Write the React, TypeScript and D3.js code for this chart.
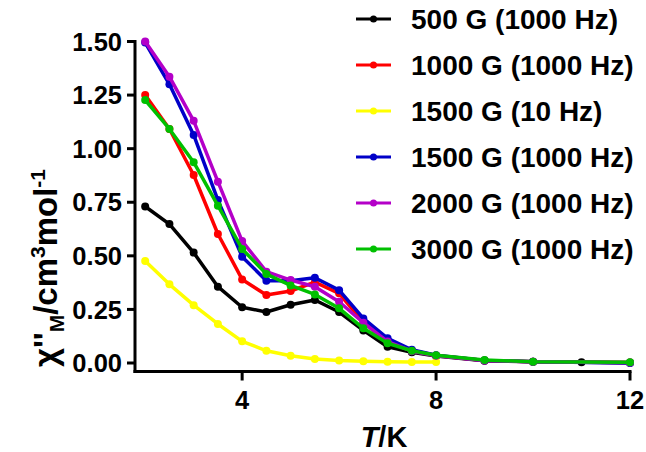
import React from "react";
import * as d3 from "d3";

const tempsMain = [2, 2.5, 3, 3.5, 4, 4.5, 5, 5.5, 6, 6.5, 7, 7.5, 8, 9, 10, 12];
const tempsBlack = [2, 2.5, 3, 3.5, 4, 4.5, 5, 5.5, 6, 6.5, 7, 7.5, 8, 9, 10, 11, 12];
const tempsYellow = [2, 2.5, 3, 3.5, 4, 4.5, 5, 5.5, 6, 6.5, 7, 7.5, 8];

const black500 = [0.73, 0.648, 0.515, 0.356, 0.26, 0.238, 0.272, 0.294, 0.238, 0.152, 0.076, 0.05, 0.033, 0.011, 0.006, 0.003, 0.001];
const red1000 = [1.25, 1.092, 0.877, 0.602, 0.39, 0.317, 0.336, 0.377, 0.325, 0.19, 0.1, 0.058, 0.035, 0.012, 0.006, 0.002];
const yellow1500 = [0.476, 0.367, 0.27, 0.182, 0.101, 0.057, 0.034, 0.019, 0.012, 0.008, 0.006, 0.005, 0.005];
const blue1500 = [1.495, 1.3, 1.064, 0.76, 0.496, 0.384, 0.384, 0.398, 0.34, 0.208, 0.115, 0.062, 0.036, 0.012, 0.006, 0.0];
const purple2000 = [1.5, 1.336, 1.13, 0.846, 0.569, 0.426, 0.387, 0.356, 0.286, 0.188, 0.1, 0.055, 0.034, 0.012, 0.006, 0.002];
const green3000 = [1.227, 1.092, 0.937, 0.734, 0.532, 0.415, 0.362, 0.32, 0.255, 0.162, 0.092, 0.057, 0.036, 0.014, 0.006, 0.003];

const seriesLabels = [
  "500 G (1000 Hz)",
  "1000 G (1000 Hz)",
  "1500 G (10 Hz)",
  "1500 G (1000 Hz)",
  "2000 G (1000 Hz)",
  "3000 G (1000 Hz)",
];
const seriesColors = ["#000000", "#ff0000", "#ffff00", "#0000c8", "#b400c8", "#00c000"];

const xTicks = [4, 8, 12];
const yTicks = [0, 0.25, 0.5, 0.75, 1.0, 1.25, 1.5];

const series = [
  { x: tempsBlack, y: black500 },
  { x: tempsMain, y: red1000 },
  { x: tempsYellow, y: yellow1500 },
  { x: tempsMain, y: blue1500 },
  { x: tempsMain, y: purple2000 },
  { x: tempsMain, y: green3000 },
];

const FONT = "'Liberation Sans', Arial, sans-serif";

export default function App() {
  const x = d3.scaleLinear().domain([1.79, 12]).range([135, 630]);
  const y = d3.scaleLinear().domain([0, 1.5]).range([363, 41.5]);
  const yBottom = 371.5;
  const line = d3
    .line<[number, number]>()
    .x((d) => x(d[0]))
    .y((d) => y(d[1]));

  const legendY0 = 19;
  const legendStep = 46;

  return (
    <svg
      width={646}
      height={452}
      style={{ position: "absolute", left: 0, top: 0, background: "#fff" }}
      fontFamily={FONT}
      fontWeight="bold"
    >
      <rect width={646} height={452} fill="#fff" />
      {/* series */}
      {series.map((s, i) => {
        const pts: [number, number][] = s.x.map((t, j) => [t, s.y[j]]);
        return (
          <g key={i}>
            <path d={line(pts) || ""} fill="none" stroke={seriesColors[i]} strokeWidth={3.5} strokeLinejoin="round" />
            {pts.map((p, j) => (
              <circle key={j} cx={x(p[0])} cy={y(p[1])} r={4} fill={seriesColors[i]} />
            ))}
          </g>
        );
      })}
      {/* axes */}
      <line x1={x.range()[0]} x2={x.range()[0]} y1={y(1.5) - 1.5} y2={yBottom + 1.5} stroke="#000" strokeWidth={3} />
      <line x1={x.range()[0] - 1.5} x2={x(12) + 1.5} y1={yBottom} y2={yBottom} stroke="#000" strokeWidth={3} />
      {yTicks.map((t) => (
        <g key={t}>
          <line x1={127} x2={135} y1={y(t)} y2={y(t)} stroke="#000" strokeWidth={3} />
          <text x={122} y={y(t)} dy="0.36em" textAnchor="end" fontSize={25.5}>
            {d3.format(".2f")(t)}
          </text>
        </g>
      ))}
      {xTicks.map((t) => (
        <g key={t}>
          <line x1={x(t)} x2={x(t)} y1={yBottom} y2={yBottom + 9} stroke="#000" strokeWidth={3} />
          <text x={x(t)} y={409} textAnchor="middle" fontSize={25.5}>
            {t}
          </text>
        </g>
      ))}
      {/* axis titles */}
      <text x={384} y={447} textAnchor="middle" fontSize={29}>
        <tspan fontStyle="italic">T</tspan>/K
      </text>
      <text transform="translate(57,268) rotate(-90)" textAnchor="middle" fontSize={33}>
        χ''<tspan fontSize={21} dy={7}>M</tspan>
        <tspan dy={-7}>/cm</tspan>
        <tspan fontSize={21} dy={-12}>3</tspan>
        <tspan dy={12}>mol</tspan>
        <tspan fontSize={21} dy={-12}>-1</tspan>
      </text>
      {/* legend */}
      {seriesLabels.map((lab, i) => {
        const ly = legendY0 + i * legendStep;
        return (
          <g key={lab}>
            <line x1={356} x2={391} y1={ly} y2={ly} stroke={seriesColors[i]} strokeWidth={3} />
            <circle cx={373.5} cy={ly} r={3.5} fill={seriesColors[i]} />
            <text x={411} y={ly} dy="0.36em" fontSize={28}>
              {lab}
            </text>
          </g>
        );
      })}
    </svg>
  );
}
